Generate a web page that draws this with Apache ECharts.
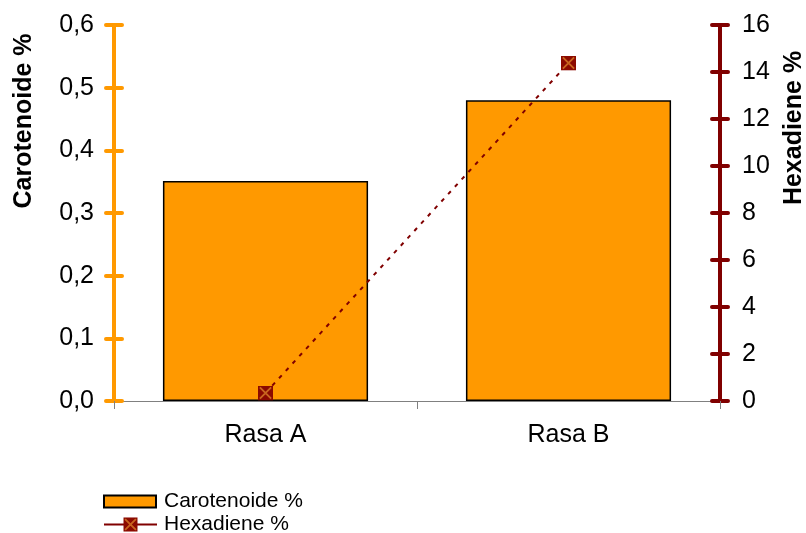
<!DOCTYPE html>
<html><head><meta charset="utf-8">
<script src="https://cdn.jsdelivr.net/npm/echarts@6/dist/echarts.min.js"></script>
<style>html,body{margin:0;padding:0;background:#fff}#c{width:806px;height:533px}</style>
</head><body><div id="c"></div>
<script>
const categories = ['Rasa A', 'Rasa B'];
const carotenoide = [0.351, 0.480];
const hexadiene = [0.34, 14.38];
const leftTicks = [0, 0.1, 0.2, 0.3, 0.4, 0.5, 0.6];
const rightTicks = [0, 2, 4, 6, 8, 10, 12, 14, 16];
const leftTitle = 'Carotenoide %';
const rightTitle = 'Hexadiene %';

const FONT = '"Liberation Sans", Arial, sans-serif';
const ORANGE = '#FF9900', DRED = '#800000';
const markerSvg = '<svg xmlns="http://www.w3.org/2000/svg" width="16" height="16"><rect x="0" y="0" width="16" height="16" fill="#8B0A00"/><path d="M2 2L14 14M14 2L2 14" stroke="#C8641E" stroke-width="2"/></svg>';
const markerImg = 'image://data:image/svg+xml;charset=utf-8,' + encodeURIComponent(markerSvg);

function yAx(pos, color, min, max, interval, inside, showLabel, fmt) {
  return {
    type: 'value', position: pos, min: min, max: max, interval: interval,
    axisLine: {show: true, lineStyle: {color: color, width: 4}},
    axisTick: {show: true, inside: inside, length: 8, lineStyle: {color: color, width: 4, cap: 'round'}},
    axisLabel: {show: showLabel, formatter: fmt, fontFamily: FONT, fontSize: 25, color: '#000',
                margin: pos === 'left' ? 20 : 22},
    splitLine: {show: false}
  };
}
const leftFmt = v => v.toFixed(1).replace('.', ',');

const chart = echarts.init(document.getElementById('c'), null, {renderer: 'canvas'});
chart.setOption({
  animation: false,
  grid: {left: 114, right: 86, top: 25, bottom: 132},
  legend: [
    {
      left: 103, top: 491, padding: 0, itemWidth: 52, itemHeight: 12,
      textStyle: {fontFamily: FONT, fontSize: 21, color: '#000', padding: [0, 0, 0, 3]},
      data: [{name: 'Carotenoide %', icon: 'rect'}]
    },
    {
      left: 103, top: 514, padding: 0, itemWidth: 53, itemHeight: 18,
      textStyle: {fontFamily: FONT, fontSize: 21, color: '#000', padding: [0, 0, 0, 2]},
      data: [{name: 'Hexadiene %', lineStyle: {type: 'solid', width: 2, color: DRED}}]
    }
  ],
  graphic: [
    {type: 'text', x: 24, y: 121, rotation: Math.PI / 2,
     style: {text: leftTitle, font: 'bold 25px ' + FONT, fill: '#000', align: 'center', verticalAlign: 'middle'}},
    {type: 'text', x: 794, y: 128, rotation: Math.PI / 2,
     style: {text: rightTitle, font: 'bold 25px ' + FONT, fill: '#000', align: 'center', verticalAlign: 'middle'}}
  ],
  xAxis: {
    type: 'category', data: categories, boundaryGap: true,
    axisLine: {lineStyle: {color: '#808080', width: 1}},
    axisTick: {show: true, length: 8, lineStyle: {color: '#808080'}},
    axisLabel: {fontFamily: FONT, fontSize: 25, color: '#000', margin: 22}
  },
  yAxis: [
    yAx('left', ORANGE, 0, 0.6, 0.1, false, true, leftFmt),
    yAx('right', DRED, 0, 16, 2, false, true, null),
    yAx('left', ORANGE, 0, 0.6, 0.1, true, false, leftFmt),
    yAx('right', DRED, 0, 16, 2, true, false, null)
  ],
  series: [
    {
      name: 'Carotenoide %', type: 'bar', yAxisIndex: 0, data: carotenoide,
      barWidth: '67.7%',
      itemStyle: {color: ORANGE, borderColor: '#000', borderWidth: 1.5}
    },
    {
      name: 'Hexadiene %', type: 'line', yAxisIndex: 1, data: hexadiene,
      symbol: markerImg, symbolSize: 15,
      lineStyle: {color: DRED, width: 2, type: [4, 6]},
      itemStyle: {color: DRED}
    }
  ]
});
</script></body></html>
